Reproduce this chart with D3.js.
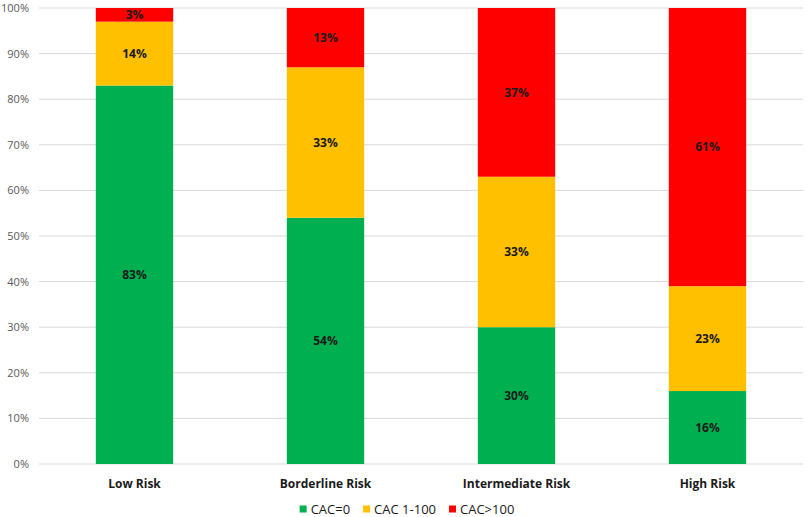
<!DOCTYPE html>
<html><head><meta charset="utf-8">
<script src="https://cdn.jsdelivr.net/npm/d3@7"></script>
<style>body{margin:0;background:#fff;} svg{display:block;font-family:"Open Sans","Liberation Sans",sans-serif;}</style>
</head><body>
<svg id="c" width="807" height="517"></svg>
<script>
const categories = ["Low Risk", "Borderline Risk", "Intermediate Risk", "High Risk"];
const seriesNames = ["CAC=0", "CAC 1-100", "CAC>100"];
const cac0 = [83, 54, 30, 16];
const cac1to100 = [14, 33, 33, 23];
const cacOver100 = [3, 13, 37, 61];
const yTicks = [0, 10, 20, 30, 40, 50, 60, 70, 80, 90, 100];
const colors = ["#00B050", "#FFC000", "#FF0000"];

(function () {
const svg = d3.select("#c");
const pLeft = 39, pRight = 803, pTop = 8, pBottom = 464;
const x = d3.scaleBand().domain(categories).range([pLeft, pRight]).padding(0);
const y = d3.scaleLinear().domain([0, 100]).range([pBottom, pTop]);

svg.append("g").selectAll("line").data(yTicks).join("line")
  .attr("x1", pLeft).attr("x2", pRight)
  .attr("y1", d => y(d)).attr("y2", d => y(d))
  .attr("stroke", "#d9d9d9").attr("stroke-width", 1);

const yAxis = d3.axisLeft(y).tickValues(yTicks).tickFormat(d => d + "%").tickSize(0).tickPadding(0);
const gy = svg.append("g").attr("transform", `translate(${pLeft - 10},0)`).call(yAxis);
gy.select(".domain").remove();
gy.selectAll("text").attr("font-size", 11).attr("fill", "#595959").attr("font-family", "'Open Sans','Liberation Sans',sans-serif");

const rows = categories.map((c, i) => ({cat: c, s0: cac0[i], s1: cac1to100[i], s2: cacOver100[i]}));
const stack = d3.stack().keys(["s0", "s1", "s2"])(rows);
const bw = x.bandwidth() * 0.405;

stack.forEach((layer, li) => {
  const g = svg.append("g");
  g.selectAll("rect").data(layer).join("rect")
    .attr("x", d => x(d.data.cat) + x.bandwidth() / 2 - bw / 2)
    .attr("width", bw)
    .attr("y", d => y(d[1]))
    .attr("height", d => y(d[0]) - y(d[1]))
    .attr("fill", colors[li]);
  g.selectAll("text").data(layer).join("text")
    .attr("x", d => x(d.data.cat) + x.bandwidth() / 2)
    .attr("y", d => (y(d[0]) + y(d[1])) / 2)
    .attr("dy", "0.35em")
    .attr("text-anchor", "middle")
    .attr("font-size", 12).attr("font-weight", "bold").attr("fill", "#1a1a1a")
    .text(d => (d[1] - d[0]) + "%");
});

const xAxis = d3.axisBottom(x).tickSize(0).tickPadding(0);
const gx = svg.append("g").attr("transform", `translate(0,${pBottom + 20})`).call(xAxis);
gx.select(".domain").remove();
gx.selectAll("text").attr("font-size", 12).attr("font-weight", "bold").attr("fill", "#1a1a1a")
  .attr("dy", "0.35em").attr("font-family", "'Open Sans','Liberation Sans',sans-serif");

const legend = svg.append("g").attr("transform", "translate(0,509)");
const items = [];
let cx = 0;
const fs = 13, sq = 7, gapT = 4, gapI = 13;
const tmp = svg.append("text").attr("font-size", fs);
seriesNames.forEach((n, i) => {
  tmp.text(n);
  const w = tmp.node().getComputedTextLength();
  items.push({n, i, x: cx, w});
  cx += sq + gapT + w + gapI;
});
tmp.remove();
const totalW = cx - gapI;
const startX = 407 - totalW / 2;
const lg = legend.selectAll("g").data(items).join("g")
  .attr("transform", d => `translate(${startX + d.x},0)`);
lg.append("rect").attr("x", 0).attr("y", -sq / 2).attr("width", sq).attr("height", sq).attr("fill", d => colors[d.i]);
lg.append("text").attr("x", sq + gapT).attr("dy", "0.35em").attr("font-size", fs).attr("fill", "#1a1a1a").text(d => d.n);
})();
</script>
</body></html>
